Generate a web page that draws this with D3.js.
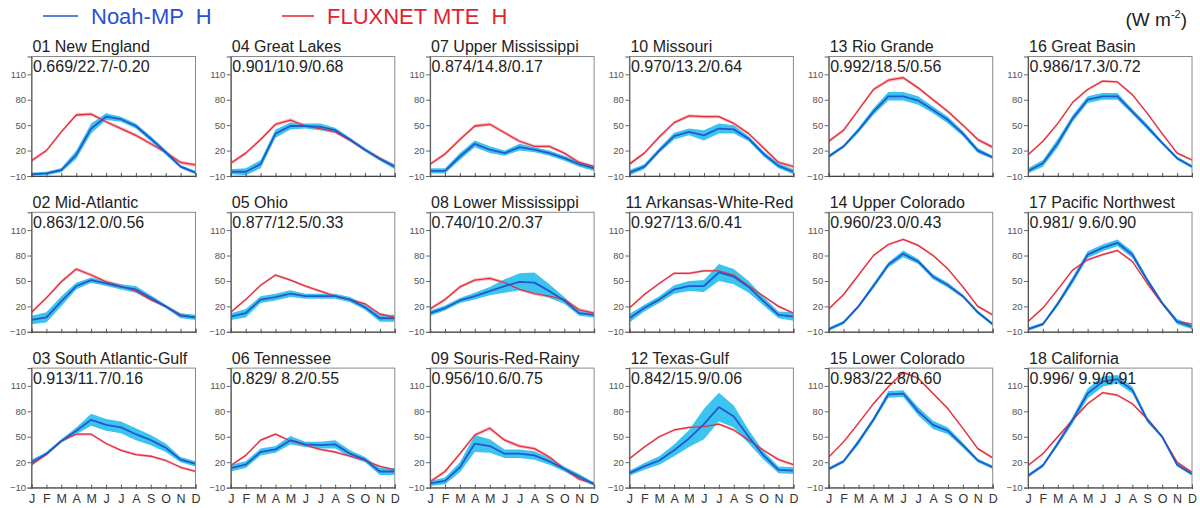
<!DOCTYPE html>
<html>
<head>
<meta charset="utf-8">
<script src="https://cdn.jsdelivr.net/npm/d3@7"></script>
<style>
  html, body { margin: 0; padding: 0; background: #fff; }
  svg { display: block; font-family: "Liberation Sans", Arial, Helvetica, sans-serif; }
</style>
</head>
<body>
<svg id="chart" width="1200" height="508"></svg>
<script>
// Monthly sensible heat flux climatology (W m-2) for the 18 US water-resource regions.
const months = ["J", "F", "M", "A", "M", "J", "J", "A", "S", "O", "N", "D"];
const yTicks = [-10, 20, 50, 80, 110];

// Regions in numeric order 01..18
const regionNames = [
  "01 New England", "02 Mid-Atlantic", "03 South Atlantic-Gulf",
  "04 Great Lakes", "05 Ohio", "06 Tennessee",
  "07 Upper Mississippi", "08 Lower Mississippi", "09 Souris-Red-Rainy",
  "10 Missouri", "11 Arkansas-White-Red", "12 Texas-Gulf",
  "13 Rio Grande", "14 Upper Colorado", "15 Lower Colorado",
  "16 Great Basin", "17 Pacific Northwest", "18 California"
];

// correlation / RMSE / skill
const regionStats = [
  "0.669/22.7/-0.20", "0.863/12.0/0.56", "0.913/11.7/0.16",
  "0.901/10.9/0.68", "0.877/12.5/0.33", "0.829/ 8.2/0.55",
  "0.874/14.8/0.17", "0.740/10.2/0.37", "0.956/10.6/0.75",
  "0.970/13.2/0.64", "0.927/13.6/0.41", "0.842/15.9/0.06",
  "0.992/18.5/0.56", "0.960/23.0/0.43", "0.983/22.8/0.60",
  "0.986/17.3/0.72", "0.981/ 9.6/0.90", "0.996/ 9.9/0.91"
];

// FLUXNET MTE H, ensemble mean
const fluxnetH = [
  [8, 20, 42, 62, 63, 54, 46, 38, 28, 18, 6, 3],
  [13, 30, 49, 64, 57, 49, 44, 38, 28, 20, 10, 7],
  [17, 29, 45, 53, 53, 42, 34, 29, 27, 22, 14, 9],
  [5, 17, 33, 51, 56, 49, 46, 42, 32, 21, 11, 1],
  [13, 28, 45, 57, 51, 44, 38, 32, 28, 23, 11, 7],
  [16, 28, 46, 53, 45, 40, 35, 32, 27, 22, 15, 11],
  [4, 16, 33, 49, 51, 41, 31, 25, 25, 17, 6, 1],
  [17, 28, 43, 51, 53, 48, 40, 35, 32, 28, 16, 12],
  [-3, 9, 30, 52, 60, 46, 39, 36, 26, 12, 0, -5],
  [4, 17, 36, 53, 61, 60, 60, 52, 40, 23, 6, 1],
  [18, 34, 47, 59, 59, 62, 62, 57, 44, 32, 20, 12],
  [24, 38, 50, 58, 61, 62, 65, 58, 46, 34, 23, 17],
  [31, 44, 68, 92, 103, 106, 94, 80, 66, 50, 33, 24],
  [17, 34, 57, 80, 93, 99, 92, 80, 64, 43, 20, 10],
  [26, 44, 66, 89, 109, 126, 119, 101, 83, 60, 36, 25],
  [15, 31, 52, 77, 92, 102, 101, 86, 64, 40, 17, 9],
  [2, 18, 40, 63, 75, 81, 86, 73, 47, 23, 2, -1],
  [16, 30, 50, 70, 89, 102, 99, 89, 71, 50, 20, 8]
];
// half-width of the FLUXNET uncertainty band
const fluxnetSpread = [2, 2, 1.5, 2, 1.5, 1.5, 2, 2, 2, 2, 1.5, 1.5, 2, 1.5, 1.5, 1.5, 1.5, 1.5];

// Noah-MP H, ensemble mean
const noahmpH = [
  [-8, -7, -3, 15, 46, 60, 57, 49, 34, 18, 1, -6],
  [4, 7, 26, 44, 51, 47, 43, 40, 30, 20, 9, 7],
  [20, 30, 45, 57, 70, 64, 61, 53, 46, 37, 23, 18],
  [-5, -5, 4, 40, 49, 49, 48, 44, 33, 21, 10, 1],
  [8, 12, 28, 31, 35, 32, 32, 32, 28, 19, 6, 6],
  [13, 17, 32, 35, 46, 41, 40, 41, 30, 23, 9, 9],
  [-4, -4, 13, 28, 21, 17, 24, 21, 17, 11, 4, -1],
  [12, 18, 27, 32, 38, 44, 49, 48, 38, 27, 12, 10],
  [-5, -2, 14, 42, 39, 30, 30, 28, 21, 12, 3, -6],
  [-6, 1, 20, 37, 42, 38, 46, 45, 34, 16, 2, -5],
  [6, 18, 28, 40, 44, 44, 60, 55, 43, 26, 10, 8],
  [7, 15, 22, 34, 48, 65, 85, 74, 50, 28, 11, 10],
  [13, 25, 44, 66, 84, 84, 79, 68, 56, 40, 20, 12],
  [-7, 1, 20, 44, 69, 82, 73, 55, 45, 32, 13, -1],
  [12, 21, 44, 70, 100, 101, 80, 64, 57, 40, 22, 14],
  [-4, 5, 29, 58, 80, 84, 84, 66, 48, 29, 11, 1],
  [-7, -1, 23, 51, 81, 89, 95, 81, 51, 24, 2, -4],
  [4, 16, 42, 70, 101, 115, 118, 105, 70, 50, 17, 6]
];
// half-width of the Noah-MP ensemble spread
const noahmpSpread = [
  [2, 2, 2.5, 5, 6, 4, 3, 3, 3, 3, 2, 2],
  [5, 6, 6, 4, 3, 3, 3, 4, 3, 2, 3, 3],
  [3, 2, 2, 4, 7, 7, 7, 7, 6, 5, 3, 3],
  [3, 4, 5, 5, 4, 3, 4, 3, 2, 2, 2, 3],
  [4, 5, 4, 4, 4, 3, 3, 3, 3, 3, 4, 4],
  [4, 4, 4, 4, 5, 3, 4, 5, 4, 3, 4, 4],
  [3, 3, 4, 4, 4, 3, 4, 3, 3, 3, 3, 3],
  [3, 3, 3, 4, 5, 8, 10, 12, 8, 4, 3, 3],
  [3, 4, 6, 10, 8, 5, 5, 5, 4, 3, 3, 2],
  [3, 3, 3, 4, 4, 6, 6, 5, 3, 3, 3, 3],
  [5, 4, 4, 5, 6, 7, 10, 9, 7, 5, 4, 5],
  [3, 4, 5, 7, 10, 18, 17, 13, 8, 5, 4, 4],
  [2, 2, 3, 4, 5, 5, 5, 4, 4, 3, 3, 2],
  [2, 2, 2, 3, 3, 4, 3, 3, 3, 2, 2, 2],
  [2, 2, 3, 3, 4, 4, 5, 5, 4, 3, 2, 2],
  [3, 4, 5, 4, 4, 4, 4, 3, 3, 2, 2, 2],
  [2, 2, 3, 4, 4, 4, 4, 4, 3, 2, 3, 3],
  [2, 2, 3, 4, 6, 6, 5, 4, 3, 2, 2, 2]
];

const legendLabels = ["Noah-MP  H", "FLUXNET MTE  H"];

// ---- layout ----
const svg = d3.select("#chart");
const panelW = 164, panelH = 119.5;
const left0 = 31.5, colStep = 199.3;
const top0 = 56.5, rowStep = 155.8;

const COLORS = {
  noahLine: "#2459c9",
  noahBand: "#3cc4f1",
  fluxLine: "#e4303e",
  fluxBand: "#f7a7b1"
};

const x = d3.scalePoint().domain(d3.range(12)).range([0, panelW]);
const y = d3.scaleLinear().domain([-10, 131]).range([panelH, 0]);

const lineGen = d3.line().x((d, i) => x(i)).y(d => y(d));
const bandGen = d3.area()
  .x(d => x(d.i))
  .y0(d => y(d.v - d.s))
  .y1(d => y(d.v + d.s));

svg.append("defs").append("clipPath").attr("id", "plotClip")
  .append("rect").attr("width", panelW).attr("height", panelH);

regionNames.forEach((name, r) => {
  const col = Math.floor(r / 3), row = r % 3;
  const g = svg.append("g")
    .attr("transform", `translate(${left0 + col * colStep},${top0 + row * rowStep})`);

  const plot = g.append("g").attr("clip-path", "url(#plotClip)");

  const noahBand = noahmpH[r].map((v, i) => ({ i, v, s: noahmpSpread[r][i] }));
  const fluxBand = fluxnetH[r].map((v, i) => ({ i, v, s: fluxnetSpread[r] }));

  plot.append("path").attr("d", bandGen(fluxBand))
    .attr("fill", COLORS.fluxBand).attr("opacity", 0.85);
  plot.append("path").attr("d", bandGen(noahBand))
    .attr("fill", COLORS.noahBand);
  plot.append("path").attr("d", lineGen(fluxnetH[r]))
    .attr("fill", "none").attr("stroke", COLORS.fluxLine).attr("stroke-width", 1.3)
    .attr("stroke-linejoin", "round");
  plot.append("path").attr("d", lineGen(noahmpH[r]))
    .attr("fill", "none").attr("stroke", COLORS.noahLine).attr("stroke-width", 1.8)
    .attr("stroke-linejoin", "round");

  // frame
  g.append("rect").attr("width", panelW).attr("height", panelH)
    .attr("fill", "none").attr("stroke", "#8a8a8a").attr("stroke-width", 1);

  // y axis
  const ya = g.append("g").call(
    d3.axisLeft(y).tickValues(yTicks).tickSize(4).tickPadding(1.5)
  );
  ya.select(".domain").attr("stroke", "#555");
  ya.selectAll(".tick line").attr("stroke", "#666");
  ya.selectAll(".tick text").attr("fill", "#555").style("font-size", "9.5px")
    .style("font-family", "'Liberation Sans', Arial, sans-serif");

  // x axis: inward ticks, month letters on the bottom row only
  const xa = g.append("g").attr("transform", `translate(0,${panelH})`).call(
    d3.axisBottom(x).tickSize(-3).tickPadding(7)
      .tickFormat(i => row === 2 ? months[i] : "")
  );
  xa.select(".domain").attr("stroke", "#444");
  xa.selectAll(".tick line").attr("stroke", "#555");
  xa.selectAll(".tick text").attr("fill", "#333").style("font-size", "12.5px")
    .style("font-family", "'Liberation Sans', Arial, sans-serif");
  const xo = g.append("g").attr("transform", `translate(0,${panelH})`).call(
    d3.axisBottom(x).tickSize(1.5).tickFormat("")
  );
  xo.select(".domain").remove();
  xo.selectAll(".tick line").attr("stroke", "#555");

  // title, kept inside the frame width
  const title = g.append("text").attr("x", 1).attr("y", -4.5)
    .attr("fill", "#222").style("font-size", "16px").text(name);
  const tw = title.node().getComputedTextLength();
  if (tw + 1 > panelW) title.attr("x", panelW - tw);

  // statistics
  g.append("text").attr("x", 1.5).attr("y", 15.5)
    .attr("fill", "#222").style("font-size", "16px")
    .style("white-space", "pre").text(regionStats[r]);
});

// ---- legend ----
const legend = svg.append("g");
const legendItems = [
  { x1: 43, x2: 78, tx: 91, color: COLORS.noahLine, textColor: "#2a50d4", label: legendLabels[0] },
  { x1: 282, x2: 314, tx: 327, color: COLORS.fluxLine, textColor: "#e2222f", label: legendLabels[1] }
];
legendItems.forEach(d => {
  legend.append("line").attr("x1", d.x1).attr("x2", d.x2).attr("y1", 16).attr("y2", 16)
    .attr("stroke", d.color).attr("stroke-width", 1.6);
  legend.append("text").attr("x", d.tx).attr("y", 24)
    .attr("fill", d.textColor).style("font-size", "22px")
    .style("white-space", "pre").text(d.label);
});

// units
const units = svg.append("text").attr("x", 1187).attr("y", 26).attr("text-anchor", "end")
  .attr("fill", "#222").style("font-size", "19px");
units.append("tspan").text("(W m");
units.append("tspan").attr("dy", -8).style("font-size", "11px").text("-2");
units.append("tspan").attr("dy", 8).text(")");
</script>
</body>
</html>
